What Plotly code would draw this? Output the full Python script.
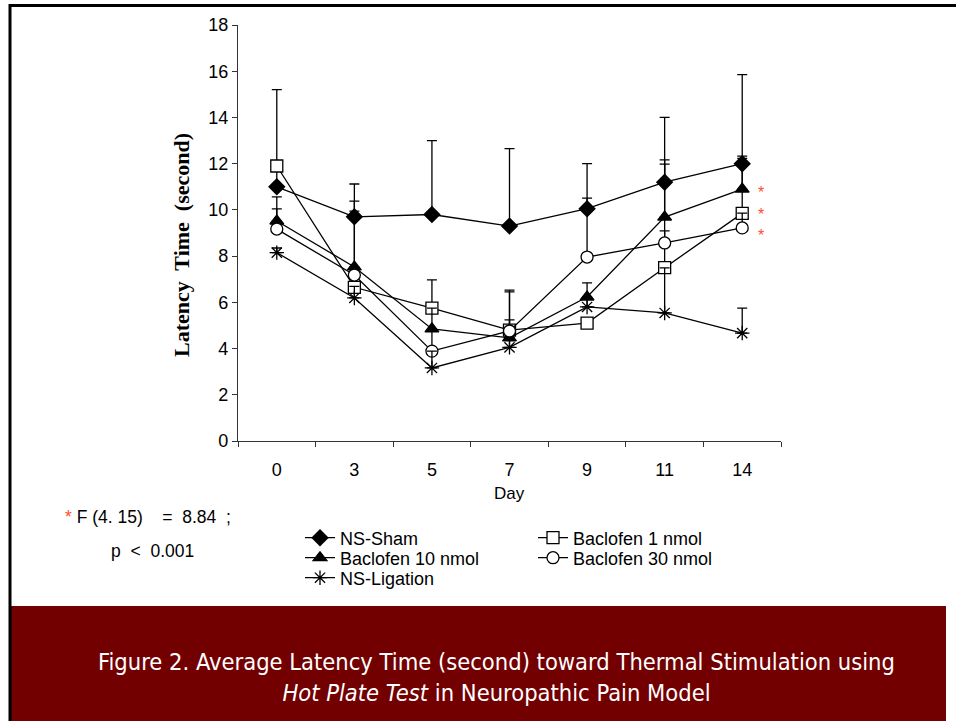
import plotly.graph_objects as go

days = ["0", "3", "5", "7", "9", "11", "14"]

sham = [11.0, 9.7, 9.8, 9.3, 10.05, 11.2, 12.0]
sham_err = [4.2, 1.42, 3.2, 3.35, 1.95, 2.8, 3.85]

bac1 = [11.9, 6.65, 5.75, 4.8, 5.1, 7.5, 9.85]
bac1_err = [0.2, 0.8, 1.22, 1.73, 0.2, 4.48, 2.38]

bac10 = [9.52, 7.53, 4.85, 4.46, 6.23, 9.69, 10.9]
bac10_err = [1.04, 2.85, 0.9, 0.78, 0.61, 2.47, 1.43]

bac30 = [9.17, 7.18, 3.89, 4.76, 7.96, 8.57, 9.22]
bac30_err = [0.87, 2.77, 0.96, 1.69, 2.55, 0.52, 0.64]

lig = [8.15, 6.19, 3.16, 4.05, 5.8, 5.54, 4.67]
lig_err = [0.2, 0.5, 0.73, 0.4, 0.4, 1.95, 1.08]

# name, values, errors, symbol, size, fill, legend
series = [
    ("NS-Sham", sham, sham_err, "diamond", 12, "black", "legend"),
    ("Baclofen 1 nmol", bac1, bac1_err, "square", 12, "white", "legend"),
    ("Baclofen 10 nmol", bac10, bac10_err, "triangle-up", 12, "black", "legend2"),
    ("Baclofen 30 nmol", bac30, bac30_err, "circle", 12, "white", "legend2"),
    ("NS-Ligation", lig, lig_err, "asterisk-open", 12, "black", "legend3"),
]

W, H = 956, 721
L, R, T, B = 238, 781, 25, 441


def px(x):
    return (x - L) / (R - L)


def py(y):
    return (B - y) / (B - T)


SANS = "Liberation Sans, Arial, sans-serif"

fig = go.Figure()
for name, vals, err, sym, size, fill, leg in series:
    fig.add_trace(go.Scatter(
        x=days, y=vals, name=name, mode="lines+markers", legend=leg,
        line=dict(color="black", width=1.3),
        marker=dict(symbol=sym, size=size, color=fill,
                    line=dict(color="black", width=1.3)),
        error_y=dict(type="data", symmetric=False, array=err,
                     arrayminus=[0] * len(err), color="black",
                     thickness=1.3, width=5),
    ))

shapes = [
    dict(type="rect", xref="paper", yref="paper", x0=px(11), x1=px(946),
         y0=py(606), y1=py(722), fillcolor="#720000", line=dict(width=0), layer="below"),
    dict(type="line", xref="paper", yref="paper", x0=px(9), x1=px(957),
         y0=py(5.5), y1=py(5.5), line=dict(color="black", width=3)),
    dict(type="line", xref="paper", yref="paper", x0=px(10), x1=px(10),
         y0=py(4), y1=py(722), line=dict(color="black", width=3)),
]

star_col = "#ff4d2e"
annotations = [
    dict(text="<b>Latency&nbsp; Time&nbsp; (second)</b>", xref="paper", yref="paper",
         x=px(181), y=py(245), textangle=-90, showarrow=False,
         font=dict(family="Liberation Serif, Times New Roman, serif", size=22, color="black"),
         xanchor="center", yanchor="middle"),
    dict(text="Day", xref="paper", yref="paper", x=px(509), y=py(493), showarrow=False,
         font=dict(family=SANS, size=17, color="black"),
         xanchor="center", yanchor="middle"),
    dict(text=f'<span style="color:{star_col}">*</span>&nbsp;F (4. 15)&nbsp;&nbsp;&nbsp; =&nbsp; 8.84&nbsp; ;',
         xref="paper", yref="paper", x=px(63), y=py(517), showarrow=False,
         font=dict(family=SANS, size=17.5, color="black"),
         xanchor="left", yanchor="middle"),
    dict(text="p&nbsp; &lt;&nbsp; 0.001", xref="paper", yref="paper", x=px(109), y=py(551),
         showarrow=False, font=dict(family=SANS, size=17.5, color="black"),
         xanchor="left", yanchor="middle"),
    dict(text="Figure 2. Average Latency Time (second) toward Thermal Stimulation using<br>"
              "<i>Hot Plate Test</i> in Neuropathic Pain Model",
         xref="paper", yref="paper", x=px(496), y=py(677), showarrow=False,
         font=dict(family="DejaVu Sans Condensed, Liberation Sans, sans-serif", size=23.5, color="white"),
         xanchor="center", yanchor="middle", align="center"),
]
for yy in [189, 211, 232]:
    annotations.append(dict(text="*", xref="paper", yref="paper", x=px(761), y=py(yy + 3),
                            showarrow=False, font=dict(family=SANS, size=16, color=star_col),
                            xanchor="center", yanchor="middle"))

leg_common = dict(orientation="h", x=px(300), xanchor="left", yanchor="middle",
                  entrywidth=188, entrywidthmode="pixels", traceorder="normal",
                  font=dict(family=SANS, size=18, color="black"),
                  bgcolor="rgba(0,0,0,0)", itemwidth=30)

fig.update_layout(
    width=W, height=H,
    margin=dict(l=L, r=W - R, t=T, b=H - B),
    paper_bgcolor="white", plot_bgcolor="white",
    showlegend=True,
    legend=dict(leg_common, y=py(538)),
    legend2=dict(leg_common, y=py(558)),
    legend3=dict(leg_common, y=py(578)),
    shapes=shapes,
    annotations=annotations,
    xaxis=dict(type="category", categoryorder="array", categoryarray=days,
               range=[-0.5, 6.5], showline=True, linecolor="#333", linewidth=1.2,
               ticks="outside", tickson="boundaries", ticklen=5, tickcolor="#333",
               showgrid=False, zeroline=False, ticklabelstandoff=12,
               tickfont=dict(family=SANS, size=18, color="black")),
    yaxis=dict(range=[0, 18], tickvals=list(range(0, 19, 2)), showline=True,
               linecolor="#333", linewidth=1.2, ticks="outside", ticklen=5, tickcolor="#333",
               showgrid=False, zeroline=False,
               tickfont=dict(family=SANS, size=18, color="black")),
)

fig.write_html("out.html", config={"displayModeBar": False},
               post_script="document.body.style.margin='0';document.body.style.padding='0';")
